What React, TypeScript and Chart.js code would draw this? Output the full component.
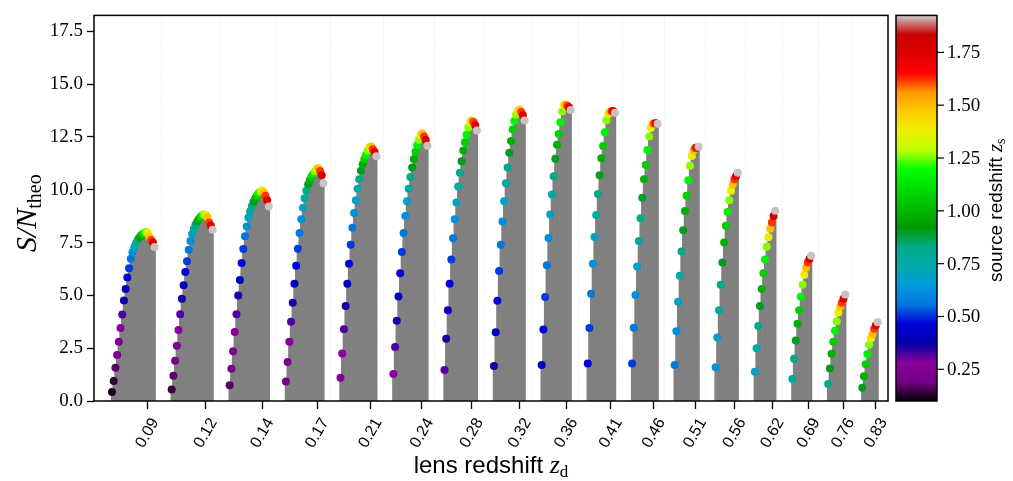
import React, { useEffect, useRef } from 'react';
import { Chart, registerables } from 'chart.js';

Chart.register(...registerables);

// Lens redshift bins (x-axis tick labels) and the extra source-only bins
const LENS_Z = [0.09, 0.12, 0.14, 0.17, 0.21, 0.24, 0.28, 0.32, 0.36, 0.41, 0.46, 0.51, 0.56, 0.62, 0.69, 0.76, 0.83];
const SOURCE_ONLY_Z = [0.90, 0.98, 1.07, 1.16, 1.26, 1.37, 1.49, 1.62, 1.76, 1.92];
const Z_GRID = [...LENS_Z, ...SOURCE_ONLY_Z];

// S/N_theo for each lens bin; entry j belongs to source bin Z_GRID[g + 1 + j]
const SN_Z009 = [0.43, 0.95, 1.57, 2.18, 2.81, 3.46, 4.09, 4.76, 5.30, 5.85, 6.28, 6.73, 7.04, 7.27, 7.47, 7.62, 7.73, 7.83, 7.90, 7.96, 8.00, 7.95, 7.75, 7.62, 7.50, 7.29];
const SN_Z012 = [0.55, 1.20, 1.90, 2.61, 3.36, 4.10, 4.84, 5.48, 6.11, 6.62, 7.16, 7.57, 7.90, 8.15, 8.35, 8.50, 8.62, 8.72, 8.78, 8.83, 8.82, 8.68, 8.45, 8.30, 8.10];
const SN_Z014 = [0.74, 1.53, 2.35, 3.27, 4.10, 4.99, 5.73, 6.53, 7.19, 7.80, 8.26, 8.68, 8.98, 9.22, 9.42, 9.58, 9.72, 9.83, 9.92, 9.97, 9.88, 9.72, 9.50, 9.20];
const SN_Z017 = [0.92, 1.85, 2.80, 3.75, 4.65, 5.55, 6.40, 7.20, 7.95, 8.60, 9.15, 9.60, 9.95, 10.25, 10.45, 10.62, 10.75, 10.87, 10.98, 11.02, 10.88, 10.68, 10.30];
const SN_Z021 = [1.10, 2.25, 3.40, 4.50, 5.55, 6.50, 7.40, 8.20, 8.90, 9.50, 10.05, 10.50, 10.90, 11.20, 11.45, 11.65, 11.85, 12.02, 12.05, 11.92, 11.78, 11.58];
const SN_Z024 = [1.28, 2.55, 3.80, 4.95, 6.05, 7.05, 7.95, 8.75, 9.45, 10.05, 10.60, 11.05, 11.45, 11.80, 12.10, 12.35, 12.58, 12.66, 12.52, 12.35, 12.08];
const SN_Z028 = [1.47, 2.95, 4.30, 5.55, 6.70, 7.70, 8.60, 9.40, 10.15, 10.80, 11.35, 11.85, 12.25, 12.60, 12.95, 13.20, 13.27, 13.20, 13.05, 12.80];
const SN_Z032 = [1.66, 3.25, 4.75, 6.15, 7.40, 8.50, 9.45, 10.30, 11.05, 11.75, 12.30, 12.85, 13.25, 13.55, 13.72, 13.78, 13.68, 13.52, 13.27];
const SN_Z036 = [1.70, 3.38, 4.92, 6.42, 7.71, 8.83, 9.77, 10.64, 11.46, 12.13, 12.64, 13.19, 13.70, 14.02, 14.03, 13.97, 13.90, 13.77];
const SN_Z041 = [1.77, 3.46, 5.08, 6.50, 7.76, 8.80, 9.80, 10.69, 11.49, 12.07, 12.72, 13.29, 13.58, 13.68, 13.73, 13.72, 13.64];
const SN_Z046 = [1.77, 3.47, 5.02, 6.37, 7.57, 8.65, 9.62, 10.49, 11.17, 11.88, 12.52, 12.92, 13.10, 13.15, 13.15, 13.12];
const SN_Z051 = [1.70, 3.30, 4.70, 5.93, 7.07, 8.08, 8.99, 9.72, 10.45, 11.14, 11.60, 11.85, 11.98, 12.00, 12.03];
const SN_Z056 = [1.60, 3.00, 4.30, 5.50, 6.55, 7.50, 8.30, 8.95, 9.50, 9.95, 10.25, 10.50, 10.65, 10.80];
const SN_Z062 = [1.38, 2.50, 3.55, 4.50, 5.30, 6.05, 6.70, 7.30, 7.75, 8.15, 8.45, 8.75, 9.00];
const SN_Z069 = [1.04, 2.00, 2.86, 3.66, 4.30, 4.93, 5.50, 5.96, 6.30, 6.55, 6.72, 6.87];
const SN_Z076 = [0.81, 1.54, 2.24, 2.81, 3.32, 3.78, 4.19, 4.46, 4.65, 4.84, 5.04];
const SN_Z083 = [0.63, 1.17, 1.74, 2.23, 2.66, 2.96, 3.16, 3.42, 3.58, 3.73];

const SN_BY_LENS = [SN_Z009, SN_Z012, SN_Z014, SN_Z017, SN_Z021, SN_Z024, SN_Z028, SN_Z032, SN_Z036,
  SN_Z041, SN_Z046, SN_Z051, SN_Z056, SN_Z062, SN_Z069, SN_Z076, SN_Z083];

const Y_TICKS = [0, 2.5, 5, 7.5, 10, 12.5, 15, 17.5];
const CB_TICKS = [0.25, 0.5, 0.75, 1.0, 1.25, 1.5, 1.75];
const CB_MIN = 0.1;
const CB_MAX = 1.925;

// nipy_spectral colormap nodes (t = 0, 0.05, ..., 1)
const CM_R = [0, 0.4667, 0.5333, 0, 0, 0, 0, 0, 0, 0, 0, 0, 0, 0.7333, 0.9333, 1, 1, 1, 0.8667, 0.8, 0.8];
const CM_G = [0, 0, 0, 0, 0, 0.4667, 0.6, 0.6667, 0.6667, 0.6, 0.7333, 0.8667, 1, 1, 0.9333, 0.8, 0.6, 0, 0, 0, 0.8];
const CM_B = [0, 0.5333, 0.6, 0.6667, 0.8667, 0.8667, 0.8667, 0.6667, 0.5333, 0, 0, 0, 0, 0, 0, 0, 0, 0, 0, 0, 0.8];

const GROUP_GAP = 9;

function cmap(t: number): string {
  const tt = Math.max(0, Math.min(1, t)) * 20;
  const i = Math.min(19, Math.floor(tt));
  const f = tt - i;
  const c = (a: number[]) => Math.round(255 * (a[i] + (a[i + 1] - a[i]) * f));
  return `rgb(${c(CM_R)},${c(CM_G)},${c(CM_B)})`;
}

type Part = { text: string; font: string; dy?: number };

function drawParts(ctx: CanvasRenderingContext2D, parts: Part[]) {
  let w = 0;
  parts.forEach(p => { ctx.font = p.font; w += ctx.measureText(p.text).width; });
  let x = -w / 2;
  ctx.textAlign = 'left';
  ctx.textBaseline = 'alphabetic';
  parts.forEach(p => {
    ctx.font = p.font;
    ctx.fillText(p.text, x, p.dy || 0);
    x += ctx.measureText(p.text).width;
  });
}

export default function App() {
  const ref = useRef<HTMLCanvasElement>(null);

  useEffect(() => {
    const canvas = ref.current;
    if (!canvas) return;

    const bars: { x: number; y: number }[] = [];
    const pts: { x: number; y: number }[] = [];
    const colors: string[] = [];
    const tickVals: number[] = [];
    const gridVals: number[] = [];
    let start = 0;
    SN_BY_LENS.forEach((vals, g) => {
      vals.forEach((v, j) => {
        const zs = Z_GRID[g + 1 + j];
        bars.push({ x: start + j, y: v });
        pts.push({ x: start + j, y: v });
        colors.push(cmap((zs - CB_MIN) / (CB_MAX - CB_MIN)));
      });
      tickVals.push(start + 0.8 * vals.length);
      gridVals.push(start + vals.length - 1 + 4);
      start += vals.length + GROUP_GAP;
    });
    const lastX = start - GROUP_GAP - 1;

    const overlay = {
      id: 'overlay',
      beforeDatasetsDraw(chart: any) {
        const { ctx, chartArea: a, scales } = chart;
        const x = scales.x;
        ctx.save();
        ctx.strokeStyle = '#ececec';
        ctx.lineWidth = 1;
        ctx.setLineDash([1.5, 2]);
        gridVals.forEach(v => {
          const px = Math.round(x.getPixelForValue(v)) + 0.5;
          ctx.beginPath();
          ctx.moveTo(px, a.top);
          ctx.lineTo(px, a.bottom);
          ctx.stroke();
        });
        ctx.restore();
      },
      afterDraw(chart: any) {
        const { ctx, chartArea: a, scales } = chart;
        const x = scales.x;
        ctx.save();
        ctx.fillStyle = '#000';
        ctx.strokeStyle = '#000';

        // frame
        ctx.lineWidth = 1.5;
        ctx.strokeRect(a.left, a.top, a.right - a.left, a.bottom - a.top);

        // x tick labels (rotated)
        ctx.font = '16px "Liberation Sans", sans-serif';
        tickVals.forEach((v, i) => {
          const px = x.getPixelForValue(v);
          ctx.save();
          ctx.translate(px, a.bottom + 32);
          ctx.rotate(-Math.PI / 3);
          ctx.textAlign = 'center';
          ctx.textBaseline = 'middle';
          ctx.fillText(LENS_Z[i].toFixed(2), 0, 0);
          ctx.restore();
        });

        // x title
        ctx.save();
        ctx.translate((a.left + a.right) / 2, a.bottom + 72);
        drawParts(ctx, [
          { text: 'lens redshift ', font: '24px "Liberation Sans", sans-serif' },
          { text: 'z', font: 'italic 26px "Liberation Serif", serif' },
          { text: 'd', font: '17px "Liberation Serif", serif', dy: 4 },
        ]);
        ctx.restore();

        // y title
        ctx.save();
        ctx.translate(36, (a.top + a.bottom) / 2 + 5);
        ctx.rotate(-Math.PI / 2);
        drawParts(ctx, [
          { text: 'S/N', font: 'italic 30px "Liberation Serif", serif' },
          { text: 'theo', font: '20px "Liberation Serif", serif', dy: 5 },
        ]);
        ctx.restore();

        // colorbar
        const cbL = a.right + 8;
        const cbW = 41;
        const top = a.top;
        const bot = a.bottom;
        const grad = ctx.createLinearGradient(0, bot, 0, top);
        for (let k = 0; k <= 20; k++) {
          grad.addColorStop(k / 20, cmap(k / 20));
        }
        ctx.fillStyle = grad;
        ctx.fillRect(cbL, top, cbW, bot - top);
        ctx.lineWidth = 1.5;
        ctx.strokeRect(cbL, top, cbW, bot - top);
        ctx.fillStyle = '#000';
        ctx.lineWidth = 1.2;
        ctx.font = '19px "Liberation Serif", serif';
        ctx.textAlign = 'left';
        ctx.textBaseline = 'middle';
        CB_TICKS.forEach(v => {
          const py = bot - ((v - CB_MIN) / (CB_MAX - CB_MIN)) * (bot - top);
          ctx.beginPath();
          ctx.moveTo(cbL + cbW, py);
          ctx.lineTo(cbL + cbW + 7, py);
          ctx.stroke();
          ctx.fillText(v.toFixed(2), cbL + cbW + 10, py + 1);
        });

        // colorbar label
        ctx.save();
        ctx.translate(1002, (top + bot) / 2 + 2);
        ctx.rotate(-Math.PI / 2);
        drawParts(ctx, [
          { text: 'source redshift ', font: '19px "Liberation Sans", sans-serif' },
          { text: 'z', font: 'italic 21px "Liberation Serif", serif' },
          { text: 's', font: '14px "Liberation Serif", serif', dy: 3 },
        ]);
        ctx.restore();

        ctx.restore();
      },
    };

    const chart = new Chart(canvas, {
      type: 'bar',
      data: {
        datasets: [
          {
            type: 'scatter',
            data: pts,
            backgroundColor: colors,
            borderWidth: 0,
            pointRadius: 4,
            pointHoverRadius: 4,
            order: 0,
          } as any,
          {
            type: 'bar',
            data: bars,
            backgroundColor: '#808080',
            borderWidth: 0,
            barPercentage: 1,
            categoryPercentage: 1,
            order: 1,
          } as any,
        ],
      },
      options: {
        animation: false,
        responsive: false,
        maintainAspectRatio: false,
        devicePixelRatio: 1,
        layout: { padding: { left: 0, right: 125, top: 5, bottom: 0 } },
        plugins: { legend: { display: false }, tooltip: { enabled: false } },
        events: [],
        scales: {
          x: {
            type: 'linear',
            min: -10.56,
            max: lastX + 6.1,
            offset: false,
            grid: { drawOnChartArea: false, drawTicks: true, tickLength: 8, tickColor: '#000', tickWidth: 1.3, offset: false },
            border: { display: false },
            ticks: { display: false },
            afterBuildTicks: (s: any) => { s.ticks = tickVals.map(v => ({ value: v })); },
            afterFit: (s: any) => { s.height = 80; },
          },
          y: {
            type: 'linear',
            min: 0,
            max: 18.25,
            grid: { drawOnChartArea: false, drawTicks: true, tickLength: 7, tickColor: '#000', tickWidth: 1.3 },
            border: { display: false },
            ticks: {
              color: '#000',
              padding: 4,
              font: { family: '"Liberation Serif", serif', size: 19 },
              callback: (v: any) => Number(v).toFixed(1),
            },
            afterBuildTicks: (s: any) => { s.ticks = Y_TICKS.map(v => ({ value: v })); },
            afterFit: (s: any) => { s.width = 94; },
          },
        },
      } as any,
      plugins: [overlay],
    });

    return () => chart.destroy();
  }, []);

  return (
    <div style={{ position: 'absolute', left: 0, top: 0, width: 1013, height: 481, background: '#fff' }}>
      <canvas ref={ref} width={1013} height={481} style={{ width: 1013, height: 481, display: 'block' }} />
    </div>
  );
}
